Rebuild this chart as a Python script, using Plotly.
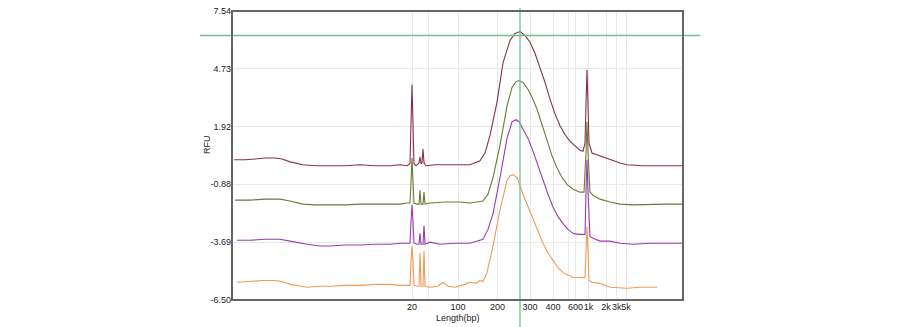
import plotly.graph_objects as go

# ---- data (x = scan position, y = RFU) ----
t1_scan = [2,13,23,33,43,50,58,65,71,83,98,113,128,143,158,168,175,178,179,180,181,182,184,187,188,189,190,191,192,194,203,213,223,233,238,248,253,258,265,271,278,283,288,293,298,303,308,313,318,323,328,333,338,343,348,351,353,354,355,356,357,360,368,378,388,395,411,428,451]
t1_rfu = [0.31,0.31,0.35,0.40,0.40,0.35,0.21,0.12,0.07,0.02,
          0.02,0.02,0.07,0.02,0.02,0.07,0.02,0.12,2.07,3.97,
          2.07,0.12,0.02,0.16,0.45,0.12,0.16,0.83,0.16,0.02,
          0.07,0.07,0.07,0.07,0.07,0.26,0.64,1.50,3.11,5.02,
          6.11,6.45,6.54,6.35,6.02,5.49,4.83,4.07,3.26,2.54,
          1.97,1.54,1.21,0.97,0.78,0.73,1.12,3.02,4.68,3.02,
          1.12,0.64,0.50,0.31,0.16,0.07,0.02,0.02,0.02]

t2_scan = [3,18,33,48,58,71,83,98,113,128,143,158,168,175,178,179,180,181,182,185,187,188,189,191,192,193,198,213,228,238,251,256,261,268,275,280,284,287,291,296,300,305,310,315,320,325,330,335,341,348,352,354,355,356,358,361,368,378,388,401,418,433,451]
t2_rfu = [-1.65,-1.65,-1.60,-1.60,-1.69,-1.84,-1.88,-1.88,-1.88,-1.84,
          -1.84,-1.84,-1.84,-1.79,-1.79,-0.79,0.40,-0.79,-1.79,-1.84,
          -1.84,-1.17,-1.84,-1.84,-1.26,-1.84,-1.79,-1.74,-1.74,-1.79,
          -1.69,-1.36,-0.55,1.02,2.92,3.83,4.11,4.16,4.07,3.73,
          3.35,2.78,2.02,1.21,0.50,-0.08,-0.55,-0.88,-1.12,-1.26,
          -1.26,0.64,2.16,0.64,-1.26,-1.41,-1.60,-1.74,-1.84,-1.88,
          -1.84,-1.84,-1.84]

t3_scan = [5,18,33,48,58,68,75,88,98,113,128,143,158,168,175,178,179,180,181,182,185,187,188,189,191,192,193,198,208,223,238,251,256,261,268,275,280,284,287,291,296,301,306,311,316,321,326,331,336,341,346,351,353,354,355,356,358,361,368,378,388,401,418,433,451]
t3_rfu = [-3.60,-3.60,-3.55,-3.55,-3.64,-3.74,-3.79,-3.88,-3.88,-3.83,
          -3.83,-3.79,-3.79,-3.74,-3.74,-3.74,-2.69,-1.88,-2.69,-3.74,
          -3.79,-3.79,-3.26,-3.79,-3.79,-2.88,-3.79,-3.69,-3.79,-3.74,
          -3.74,-3.55,-3.07,-2.31,-0.55,1.35,2.16,2.26,2.16,1.83,
          1.35,0.73,0.02,-0.69,-1.36,-1.98,-2.45,-2.79,-3.07,-3.26,
          -3.31,-3.31,-3.31,-1.26,0.31,-1.26,-3.41,-3.50,-3.64,-3.64,
          -3.74,-3.79,-3.74,-3.74,-3.74]

t4_scan = [5,18,31,43,50,58,68,75,88,98,113,128,143,158,168,175,178,179,180,181,182,185,187,188,189,191,192,193,198,206,211,216,223,233,238,244,248,251,255,261,268,275,278,281,285,291,296,301,306,311,316,321,326,331,336,341,346,351,353,354,355,356,357,360,368,378,395,408,425]
t4_rfu = [-5.64,-5.60,-5.55,-5.55,-5.60,-5.74,-5.83,-5.88,-5.83,-5.83,
          -5.79,-5.79,-5.74,-5.74,-5.79,-5.79,-5.79,-4.60,-3.88,-4.60,
          -5.79,-5.83,-5.83,-4.22,-5.83,-5.83,-4.12,-5.83,-5.88,-5.83,
          -5.64,-5.83,-5.88,-5.74,-5.64,-5.69,-5.55,-5.60,-5.17,-3.88,
          -2.12,-0.69,-0.46,-0.41,-0.55,-1.36,-1.98,-2.60,-3.17,-3.74,
          -4.22,-4.60,-4.93,-5.17,-5.31,-5.41,-5.41,-5.41,-5.41,-4.12,
          -2.93,-4.12,-5.55,-5.64,-5.69,-5.88,-5.93,-5.88,-5.88]

size_tick_scan = [180, 226, 265.5, 298, 321, 343.5, 356.5, 374, 384.7, 394]
size_tick_text = ["20", "100", "200", "300", "400", "600", "1k", "2k", "3k", "5k"]
minor_grid_scan = [196, 336]
rfu_ticks = [7.54, 4.73, 1.92, -0.88, -3.69, -6.50]
rfu_tick_text = ["7.54", "4.73", "1.92", "-0.88", "-3.69", "-6.50"]
cursor_scan = 288
cursor_rfu = 6.35

X_RANGE = [0, 451]
Y_RANGE = [-6.50, 7.54]
FONT = "Arial, Liberation Sans, sans-serif"

series = [
    (t1_scan, t1_rfu, "#86304a"),
    (t2_scan, t2_rfu, "#6c7a38"),
    (t3_scan, t3_rfu, "#9a3cae"),
    (t4_scan, t4_rfu, "#f19a55"),
]

fig = go.Figure()
for xs, ys, col in series:
    fig.add_trace(go.Scatter(x=xs, y=ys, mode="lines",
                             line=dict(color=col, width=1.1),
                             hoverinfo="skip", showlegend=False))

cx = (cursor_scan - X_RANGE[0]) / (X_RANGE[1] - X_RANGE[0])
cy = (cursor_rfu - Y_RANGE[0]) / (Y_RANGE[1] - Y_RANGE[0])
green = "#6cc195"
fig.add_shape(type="line", xref="paper", yref="paper", x0=cx, x1=cx, y0=-0.2, y1=1.1,
              line=dict(color=green, width=1.3), layer="above")
fig.add_shape(type="line", xref="paper", yref="paper", x0=-0.071, x1=1.038, y0=cy, y1=cy,
              line=dict(color=green, width=1.3), layer="above")
# plot frame
fig.add_shape(type="rect", xref="paper", yref="paper", x0=0, x1=1, y0=0, y1=1,
              line=dict(color="#666", width=2), layer="above")

fig.add_annotation(text="RFU", xref="paper", yref="paper", x=-0.071, y=0.54,
                   textangle=-90, showarrow=False,
                   font=dict(family=FONT, size=9, color="#222"))
fig.add_annotation(text="Length(bp)", xref="paper", yref="paper", x=0.5, y=-0.062,
                   yanchor="middle", showarrow=False,
                   font=dict(family=FONT, size=9, color="#222"))

# page body has an 8px default margin; size the figure so the plot lands where the reference has it
fig.update_layout(
    width=892, height=319,
    margin=dict(l=224, r=217, t=3, b=27, autoexpand=False),
    paper_bgcolor="white", plot_bgcolor="white",
    font=dict(family=FONT, size=9, color="#222"),
    showlegend=False,
)
fig.update_xaxes(range=X_RANGE, tickmode="array", tickvals=size_tick_scan,
                 ticktext=size_tick_text, tickangle=0, automargin=False,
                 showgrid=True, gridcolor="#e9e9e9", ticklabeloverflow="allow",
                 gridwidth=1, zeroline=False, showline=False,
                 ticks="", ticklabelstandoff=0,
                 minor=dict(tickvals=minor_grid_scan, showgrid=True, gridcolor="#ececec"))
fig.update_yaxes(range=Y_RANGE, tickmode="array", tickvals=rfu_ticks,
                 ticktext=rfu_tick_text, automargin=False, showgrid=True, gridcolor="#e9e9e9",
                 ticklabeloverflow="allow",
                 zeroline=False, showline=False, ticks="")

fig.write_html("out.html")
